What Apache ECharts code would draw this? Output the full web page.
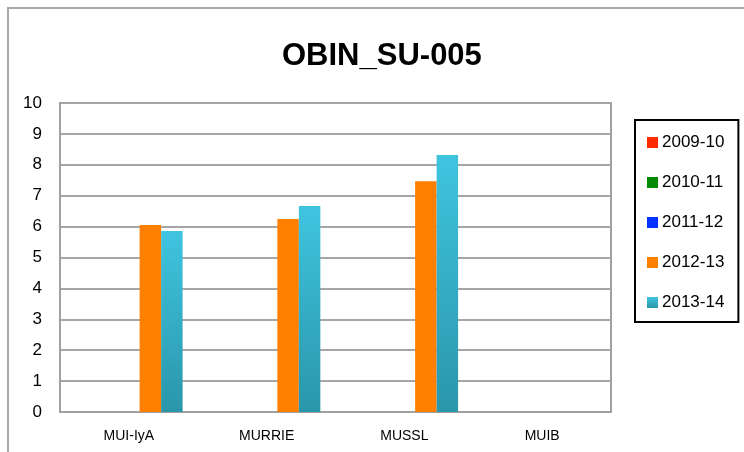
<!DOCTYPE html>
<html>
<head>
<meta charset="utf-8">
<script src="https://cdn.jsdelivr.net/npm/echarts@6/dist/echarts.min.js"></script>
<style>
  html, body { margin: 0; padding: 0; background: #fff; }
  .wrap { position: relative; width: 744px; height: 452px; overflow: hidden; }
  .frame {
    position: absolute; left: 7px; top: 7px; width: 800px; height: 500px;
    border-top: 2px solid #a8a8a8; border-left: 2px solid #a8a8a8;
  }
  #chart { position: absolute; left: 0; top: 0; width: 744px; height: 452px; }
</style>
</head>
<body>
<div class="wrap">
  <div class="frame"></div>
  <div id="chart"></div>
</div>
<script>
  // categories and series
  const categories = ['MUI-IyA', 'MURRIE', 'MUSSL', 'MUIB']
  const years = ['2009-10', '2010-11', '2011-12', '2012-13', '2013-14']
  const s2009 = [null, null, null, null]
  const s2010 = [null, null, null, null]
  const s2011 = [null, null, null, null]
  const s2012 = [6.05, 6.25, 7.47, null]
  const s2013 = [5.86, 6.67, 8.32, null]

  const font = "'Liberation Sans', Arial, sans-serif"

  const cyan = new echarts.graphic.LinearGradient(0, 0, 0, 1, [
    { offset: 0, color: '#3fc4e0' },
    { offset: 1, color: '#2a96aa' },
  ])

  const colors = ['#ff2a00', '#008a00', '#0033ff', '#ff7f00', cyan]
  const seriesData = [s2009, s2010, s2011, s2012, s2013]

  const myChart = echarts.init(document.getElementById('chart'))

  const option = {
    animation: false,
    title: {
      text: 'OBIN_SU-005',
      left: 277,
      top: 36,
      textStyle: { fontFamily: font, fontWeight: 'bold', fontSize: 31, color: '#000' },
    },
    legend: {
      orient: 'vertical',
      left: 635,
      top: 120,
      data: years,
      icon: 'rect',
      itemWidth: 11,
      itemHeight: 11,
      itemGap: 23,
      padding: [14, 14, 11, 12],
      borderColor: '#000',
      borderWidth: 2,
      textStyle: { fontFamily: font, fontSize: 17, color: '#000', padding: [0, 0, 0, -1] },
    },
    grid: {
      left: 60,
      right: 133,
      top: 103,
      bottom: 40,
      show: true,
      borderColor: '#a0a0a0',
      borderWidth: 2,
    },
    xAxis: {
      type: 'category',
      data: categories,
      axisLine: { lineStyle: { color: '#a0a0a0', width: 2 } },
      axisTick: { inside: true, length: 4, lineStyle: { color: '#a0a0a0', width: 1 } },
      axisLabel: { fontFamily: font, fontSize: 14, color: '#000', margin: 17 },
    },
    yAxis: {
      type: 'value',
      min: 0,
      max: 10,
      interval: 1,
      axisLine: { show: true, lineStyle: { color: '#a0a0a0', width: 2 } },
      axisTick: { show: false },
      splitLine: { lineStyle: { color: '#a6a6a6', width: 2 } },
      axisLabel: { fontFamily: font, fontSize: 17, color: '#000', margin: 18 },
    },
    series: years.map((name, i) => ({
      name: name,
      type: 'bar',
      data: seriesData[i],
      barGap: '0%',
      barCategoryGap: '22%',
      itemStyle: { color: colors[i] },
    })),
  }

  myChart.setOption(option)
</script>
</body>
</html>
